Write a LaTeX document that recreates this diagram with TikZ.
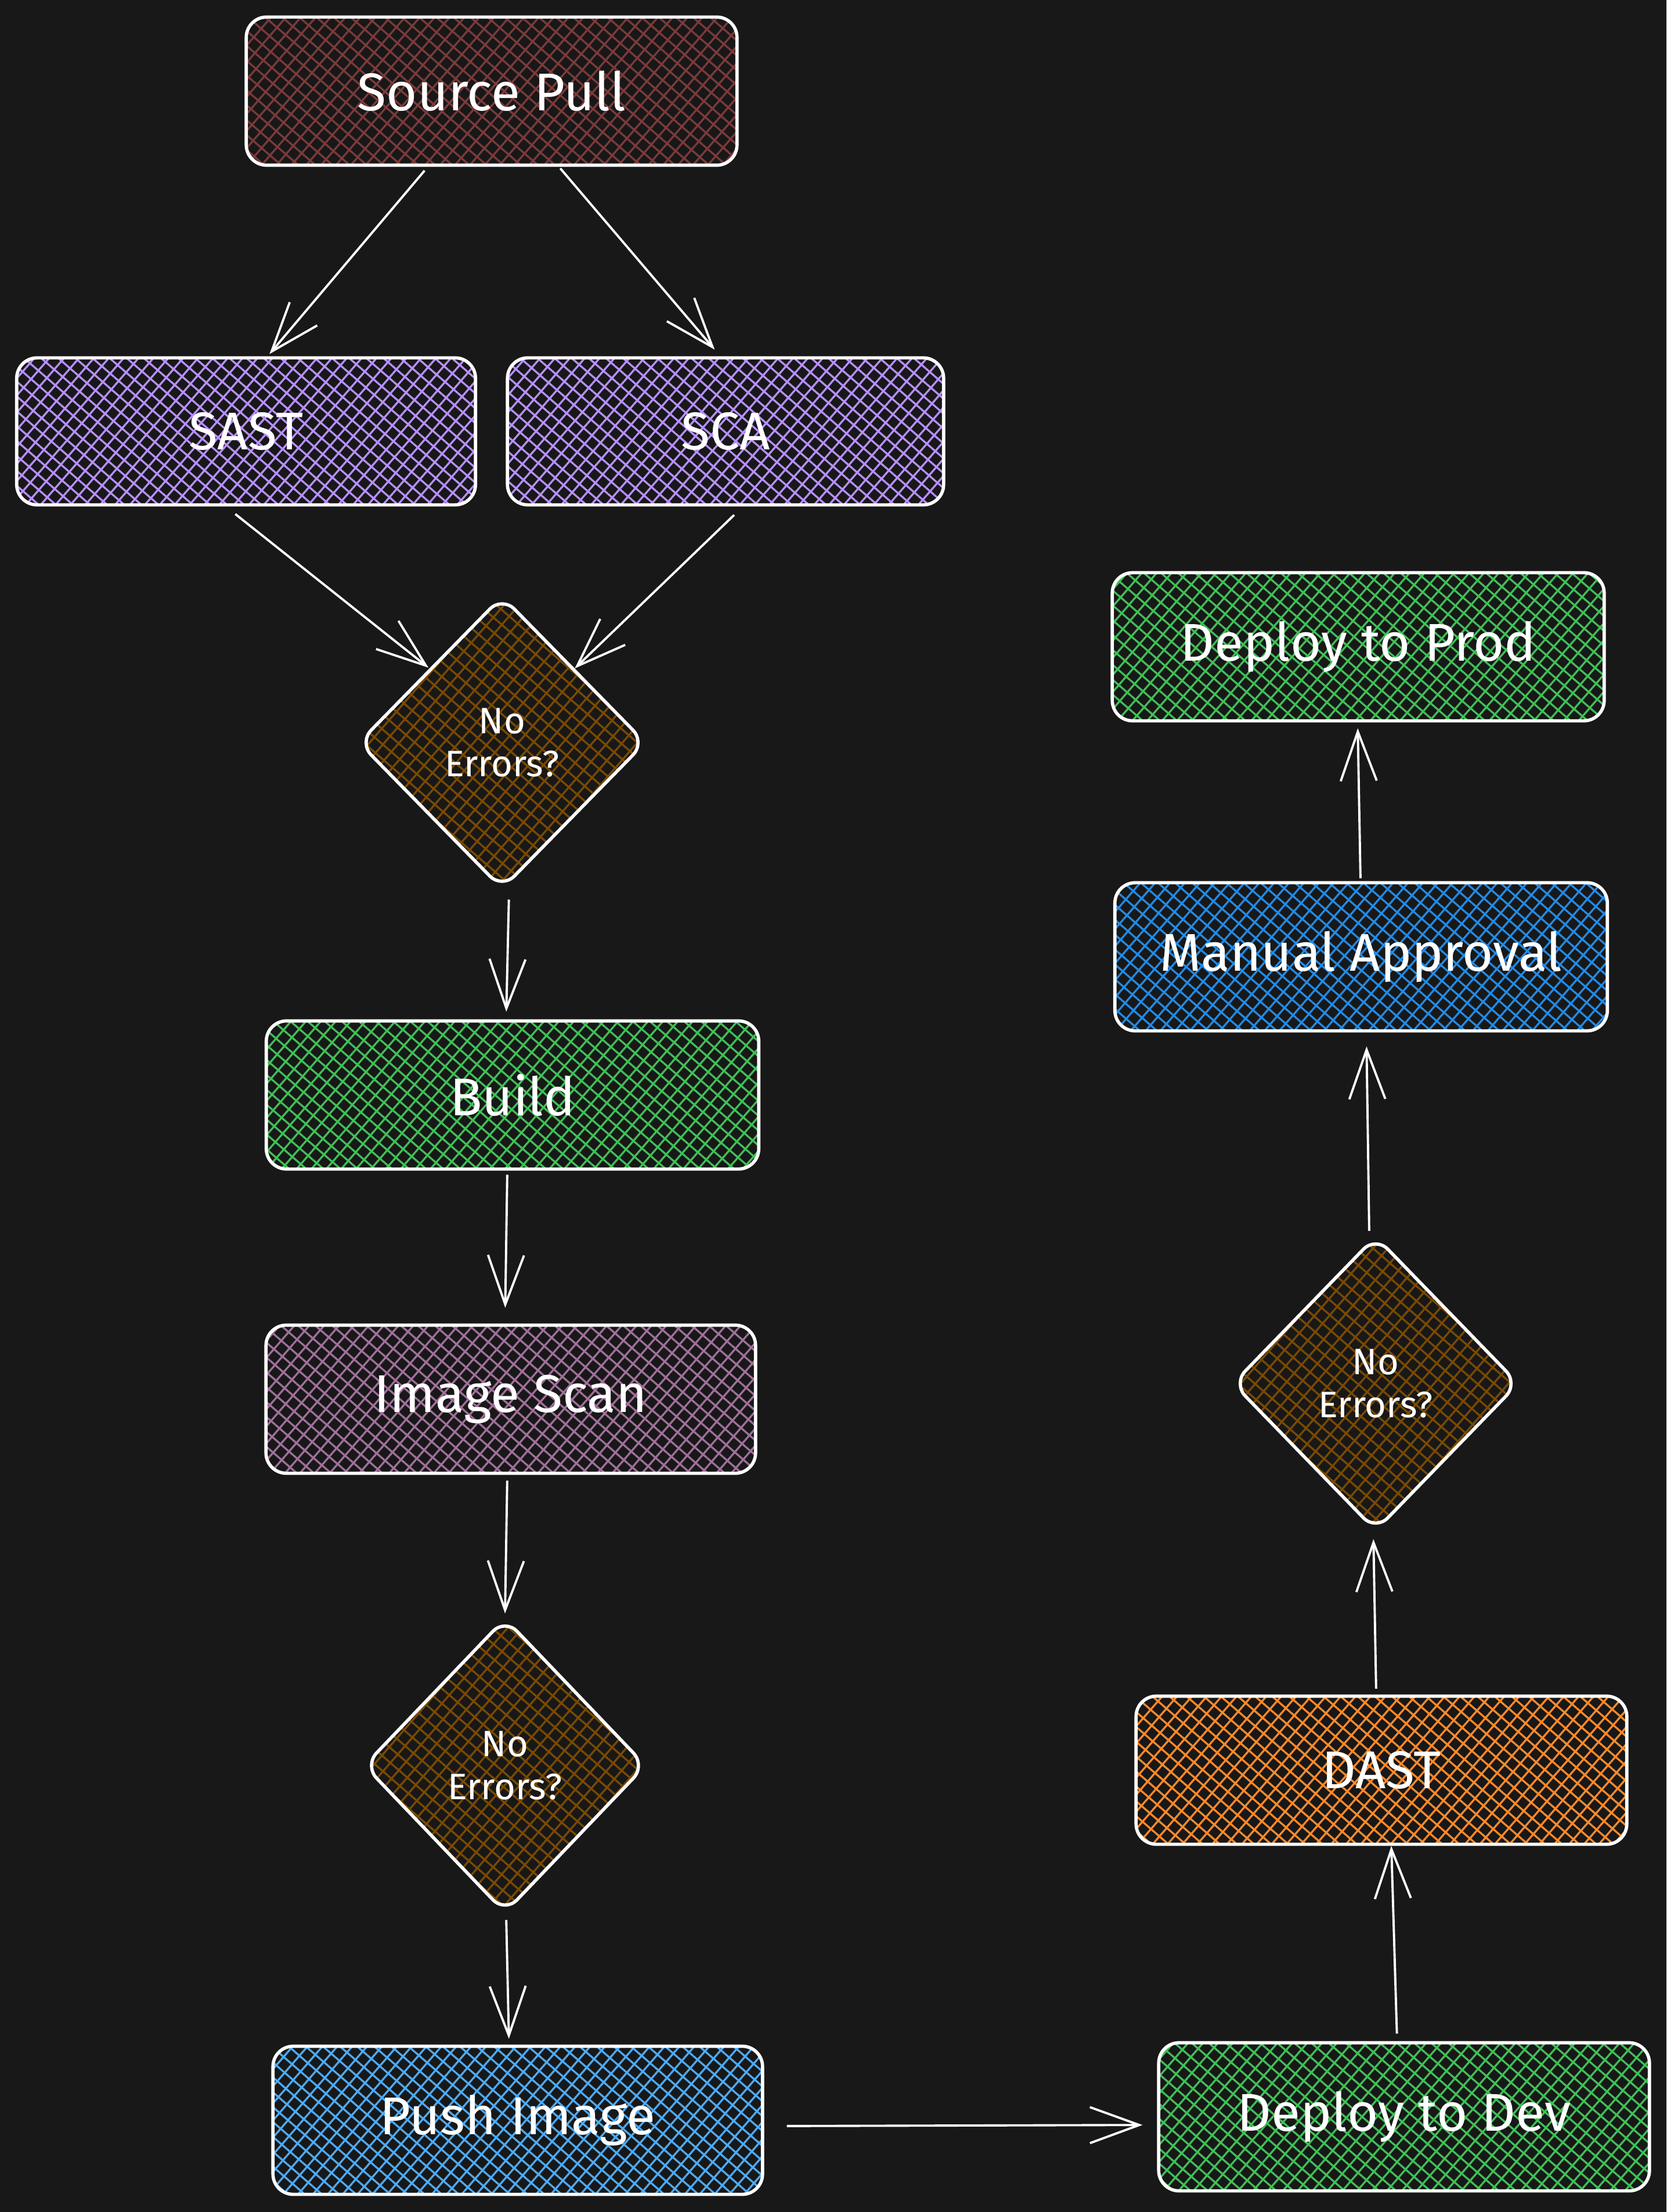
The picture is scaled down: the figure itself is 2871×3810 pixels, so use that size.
\documentclass[tikz,border=0pt]{standalone}
\usepackage{fontspec}
\setmainfont{Fira Sans}
\usetikzlibrary{shapes.geometric,arrows.meta,patterns.meta}
\definecolor{bg}{HTML}{181818}
\definecolor{cred}{HTML}{7C3A3A}
\definecolor{cpurple}{HTML}{B890FF}
\definecolor{cbrown}{HTML}{7A4A00}
\definecolor{cgreen}{HTML}{40C057}
\definecolor{cmauve}{HTML}{A0709A}
\definecolor{clblue}{HTML}{4DABF7}
\definecolor{corange}{HTML}{FF8A2A}
\definecolor{cblue}{HTML}{228BE6}
\begin{document}
\begin{tikzpicture}[x=0.01cm,y=-0.01cm,
  hatch/.style={pattern={Hatch[angle=49,distance=5.5pt,line width=0.95pt]}, pattern color=#1},
  box/.style={draw=white, line width=1.6pt, rounded corners=0.35cm, minimum width=8.45cm,
    minimum height=2.55cm, inner sep=0pt, text=white, font=\fontsize{26}{31}\selectfont},
  diam/.style={diamond, draw=white, line width=1.6pt, rounded corners=0.3cm, minimum width=4.95cm,
    minimum height=5.05cm, inner sep=0pt, text=white, align=center,
    font=\fontsize{18}{21}\selectfont, hatch=cbrown},
  arr/.style={draw=white, line width=1.1pt, -{Straight Barb[length=0.85cm,width=0.62cm]}}
]
\useasboundingbox (0,0) rectangle (2871,3810);
\fill[bg] (0,0) rectangle (2871,3810);

\node[box, hatch=cred] (sp) at (847,157) {Source Pull};
\node[box, hatch=cpurple, minimum width=7.9cm, minimum height=2.53cm] (sast) at (424,743) {SAST};
\node[box, hatch=cpurple, minimum width=7.51cm, minimum height=2.53cm] (sca) at (1250,743) {SCA};
\node[diam] (d1) at (865,1279) {No\\Errors?};
\node[box, hatch=cgreen, minimum width=8.48cm] (build) at (883,1886) {Build};
\node[box, hatch=cmauve, minimum width=8.43cm] (scan) at (880,2410) {Image Scan};
\node[diam, minimum width=4.86cm, minimum height=5.08cm] (d2) at (870,3041) {No\\Errors?};
\node[box, hatch=clblue, minimum width=8.43cm] (push) at (892,3652) {Push Image};
\node[box, hatch=cgreen] (dev) at (2419,3646) {Deploy to Dev};
\node[box, hatch=corange] (dast) at (2380,3049) {DAST};
\node[diam, minimum width=4.93cm, minimum height=5.08cm] (d3) at (2370,2383) {No\\Errors?};
\node[box, hatch=cblue, minimum width=8.48cm] (man) at (2345,1648) {Manual Approval};
\node[box, hatch=cgreen, minimum width=8.47cm] (prod) at (2340,1114) {Deploy to Prod};

\draw[arr, shorten <=0.1cm, shorten >=0.05cm] ([xshift=-1.09cm]sp.south) -- ([xshift=0.37cm]sast.north);
\draw[arr, shorten <=0.05cm, shorten >=0.15cm] ([xshift=1.15cm]sp.south) -- ([xshift=-0.09cm]sca.north);
\draw[arr, shorten <=0.21cm, shorten >=0.02cm] ([xshift=-0.35cm]sast.south) -- (d1.north west);
\draw[arr, shorten <=0.21cm, shorten >=0cm] ([xshift=0.3cm]sca.south) -- (d1.north east);
\draw[arr, shorten <=0.15cm, shorten >=0.13cm] ([xshift=0.12cm]d1.south) -- ([xshift=-0.11cm]build.north);
\draw[arr, shorten <=0.07cm, shorten >=0.27cm] ([xshift=-0.09cm]build.south) -- ([xshift=-0.1cm]scan.north);
\draw[arr, shorten <=0.1cm, shorten >=0.05cm] ([xshift=-0.06cm]scan.south) -- (d2.north);
\draw[arr, shorten <=0.09cm, shorten >=0.1cm] ([xshift=0.02cm]d2.south) -- ([xshift=-0.15cm]push.north);
\draw[arr, shorten <=0.39cm, shorten >=0.25cm] ([yshift=-0.1cm]push.east) -- ([yshift=-0.14cm]dev.west);
\draw[arr, shorten <=0.13cm, shorten >=0cm] ([xshift=-0.12cm]dev.north) -- ([xshift=0.17cm]dast.south);
\draw[arr, shorten <=0.1cm, shorten >=0.11cm] ([xshift=-0.09cm]dast.north) -- ([xshift=-0.04cm]d3.south);
\draw[arr, shorten <=0.06cm, shorten >=0.24cm] ([xshift=-0.11cm]d3.north) -- ([xshift=0.09cm]man.south);
\draw[arr, shorten <=0.05cm, shorten >=0.1cm] ([xshift=-0.01cm]man.north) -- ([xshift=-0.01cm]prod.south);
\end{tikzpicture}
\end{document}
